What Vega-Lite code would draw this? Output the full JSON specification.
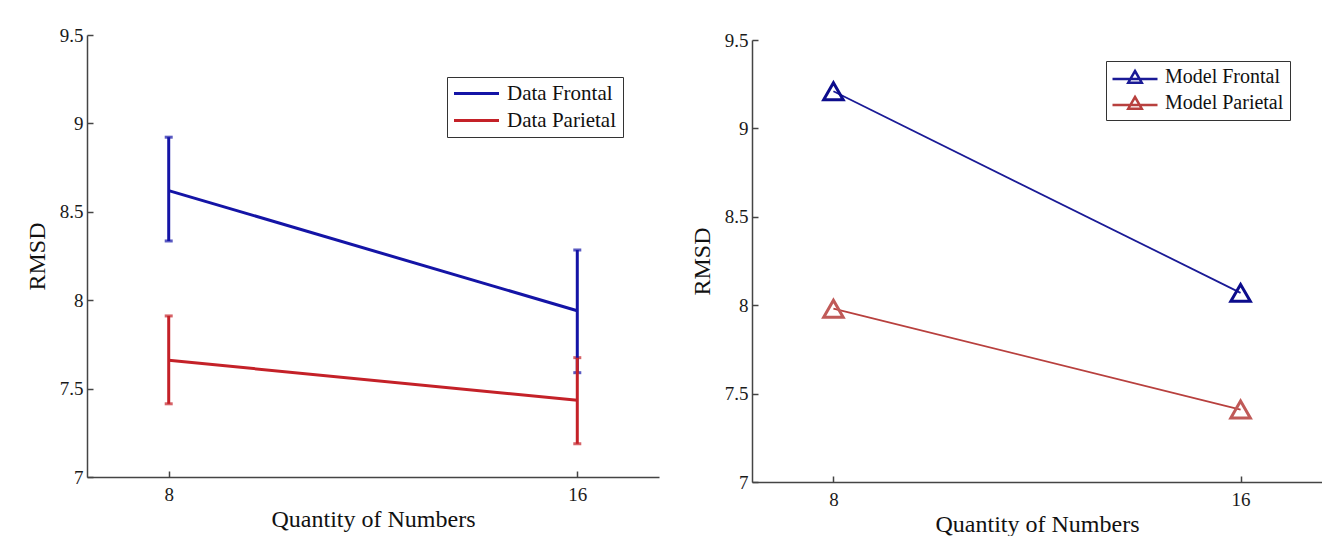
{
  "$schema": "https://vega.github.io/schema/vega-lite/v6.json",
  "background": "white",
  "padding": {"left": 25, "top": 26, "right": 0, "bottom": 0},
  "spacing": 31,
  "config": {
    "view": {"stroke": null},
    "axis": {
      "labelFont": "Liberation Serif",
      "titleFont": "Liberation Serif",
      "labelFontSize": 19,
      "titleFontSize": 24,
      "titleFontWeight": "normal",
      "labelColor": "#1a1a1a",
      "titleColor": "#111111",
      "domainColor": "#444444",
      "tickColor": "#444444",
      "domainWidth": 1.5,
      "tickWidth": 1.5,
      "tickSize": -6,
      "grid": false
    },
    "legend": {
      "labelFont": "Liberation Serif",
      "labelFontSize": 20,
      "labelColor": "#111111",
      "strokeColor": "#333333",
      "fillColor": "white",
      "padding": 6,
      "title": null
    }
  },
  "hconcat": [
    {
      "width": 572,
      "height": 442,
      "data": {"values": [
        {"n": 8, "series": "Data Frontal", "rmsd": 8.62, "lo": 8.335, "hi": 8.922},
        {"n": 16, "series": "Data Frontal", "rmsd": 7.94, "lo": 7.59, "hi": 8.284},
        {"n": 8, "series": "Data Parietal", "rmsd": 7.66, "lo": 7.414, "hi": 7.911},
        {"n": 16, "series": "Data Parietal", "rmsd": 7.434, "lo": 7.188, "hi": 7.675}
      ]},
      "layer": [
        {
          "mark": {"type": "line", "strokeWidth": 3},
          "encoding": {
            "x": {"field": "n", "type": "quantitative", "scale": {"domain": [6.4, 17.6], "nice": false, "zero": false},
                  "axis": {"values": [8, 16], "title": "Quantity of Numbers", "titlePadding": 3, "labelPadding": 14}},
            "y": {"field": "rmsd", "type": "quantitative", "scale": {"domain": [7, 9.5], "nice": false, "zero": false},
                  "axis": {"values": [7, 7.5, 8, 8.5, 9, 9.5], "labelExpr": "datum.value + ''", "title": "RMSD", "titlePadding": 10, "labelPadding": 10}},
            "color": {"field": "series", "type": "nominal",
                      "scale": {"domain": ["Data Frontal", "Data Parietal"], "range": ["#1414a6", "#c42128"]},
                      "legend": {"orient": "none", "legendX": 360, "legendY": 42, "labelFontSize": 21, "symbolType": "M-3,0H3", "symbolSize": 225, "symbolStrokeWidth": 3, "symbolOffset": 13, "labelOffset": 20, "rowPadding": 5}}
          }
        },
        {
          "mark": {"type": "errorbar", "thickness": 3, "ticks": {"size": 8, "thickness": 3}},
          "encoding": {
            "x": {"field": "n", "type": "quantitative"},
            "y": {"field": "lo", "type": "quantitative", "title": "RMSD"},
            "y2": {"field": "hi"},
            "color": {"field": "series", "type": "nominal", "legend": null}
          }
        }
      ]
    },
    {
      "width": 570,
      "height": 447,
      "data": {"values": [
        {"n": 8, "series": "Model Frontal", "rmsd": 9.21},
        {"n": 16, "series": "Model Frontal", "rmsd": 8.07},
        {"n": 8, "series": "Model Parietal", "rmsd": 7.98},
        {"n": 16, "series": "Model Parietal", "rmsd": 7.41}
      ]},
      "layer": [
        {
          "mark": {"type": "line", "strokeWidth": 1.8},
          "encoding": {
            "x": {"field": "n", "type": "quantitative", "scale": {"domain": [6.4, 17.6], "nice": false, "zero": false},
                  "axis": {"values": [8, 16], "title": "Quantity of Numbers", "titlePadding": 3, "labelPadding": 14}},
            "y": {"field": "rmsd", "type": "quantitative", "scale": {"domain": [7, 9.5], "nice": false, "zero": false, "range": [447, 5]},
                  "axis": {"values": [7, 7.5, 8, 8.5, 9, 9.5], "labelExpr": "datum.value + ''", "title": "RMSD", "titlePadding": 10, "labelPadding": 10}},
            "color": {"field": "series", "type": "nominal",
                      "scale": {"domain": ["Model Frontal", "Model Parietal"], "range": ["#1a1a96", "#b8403e"]},
                      "legend": {"orient": "none", "legendX": 354, "legendY": 26, "symbolType": "M-3,0.25H3M0,-0.8L0.9,0.75L-0.9,0.75Z", "symbolSize": 225, "symbolStrokeWidth": 2.5, "symbolFillColor": "transparent", "symbolOffset": 13, "labelOffset": 20, "rowPadding": 4}}
          }
        },
        {
          "mark": {"type": "point", "shape": "triangle-up", "filled": false, "size": 380, "strokeWidth": 3, "opacity": 1},
          "encoding": {
            "x": {"field": "n", "type": "quantitative"},
            "y": {"field": "rmsd", "type": "quantitative"},
            "color": {"field": "series", "type": "nominal",
                      "scale": {"domain": ["Model Frontal", "Model Parietal"], "range": ["#0c0c8c", "#c05a58"]}, "legend": null}
          }
        }
      ],
      "resolve": {"scale": {"color": "independent"}}
    }
  ]
}
